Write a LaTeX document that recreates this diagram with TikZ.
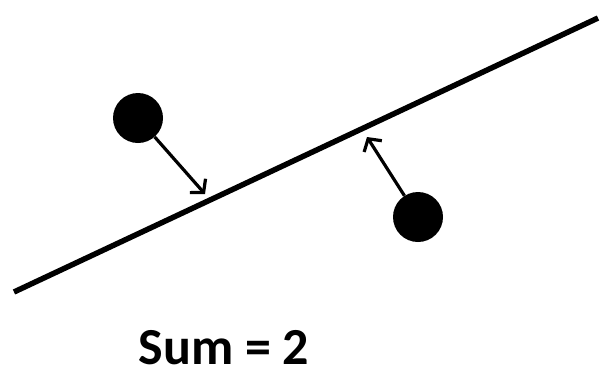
\documentclass[tikz,border=0pt]{standalone}
\usepackage{fontspec}
\setmainfont{Carlito}
\usetikzlibrary{arrows.meta}
\begin{document}
\begin{tikzpicture}[x=1pt,y=-1pt,
  ball/.style={circle,fill=black,minimum size=50pt,inner sep=0pt},
  push/.style={line width=3.2pt,-{Straight Barb[length=9pt,width=21pt]}}]
\useasboundingbox (0,0) rectangle (604,370);
\coordinate (l1) at (14,292);
\coordinate (l2) at (598,18);
\draw[line width=5.5pt] (l1) -- (l2);
\node[ball] (c1) at (138,118) {};
\node[ball] (c2) at (418,217) {};
\coordinate (t1) at (205,194);
\coordinate (t2) at (367,137);
\draw[push] (c1) -- (t1);
\draw[push] (c2) -- (t2);
\node[font=\fontsize{52}{54}\selectfont\bfseries,inner sep=0pt,anchor=base] (s) at (224,364) {Sum = 2};
\end{tikzpicture}
\end{document}
